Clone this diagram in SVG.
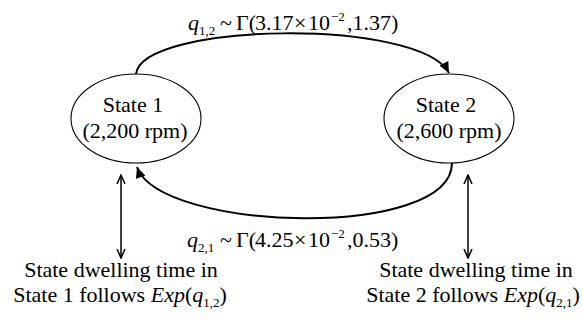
<svg xmlns="http://www.w3.org/2000/svg" width="583" height="320" viewBox="0 0 583 320">
<style>
text{font-family:"Liberation Serif","Times New Roman",serif;font-size:22px;fill:#000}
.it{font-style:italic}
.sm{font-size:13px}
.node ellipse{fill:#fff;stroke:#000;stroke-width:1.1}
.arc{fill:none;stroke:#000;stroke-width:2}
.dbl{fill:none;stroke:#000;stroke-width:1.5}
</style>
<defs>
<marker id="tri" markerWidth="12" markerHeight="10" refX="11" refY="5" orient="auto" markerUnits="userSpaceOnUse">
<path d="M0,0 L11,5 L0,10 Z" fill="#000"/>
</marker>
<marker id="chev" markerWidth="10" markerHeight="10" refX="9" refY="5" orient="auto" markerUnits="userSpaceOnUse">
<path d="M0,1 L9,5 L0,9" fill="none" stroke="#000" stroke-width="1.5"/>
</marker>
</defs>
<g id="connectors">
<path class="arc" d="M136,74 C142,22 420,18 449,73" marker-end="url(#tri)"/>
<path class="arc" d="M452,163 C452,240 160,232 137,167" marker-end="url(#tri)"/>
<path class="dbl" d="M121,216 L121,175" marker-end="url(#chev)"/>
<path class="dbl" d="M121,216 L121,258" marker-end="url(#chev)"/>
<path class="dbl" d="M468,216 L468,175" marker-end="url(#chev)"/>
<path class="dbl" d="M468,216 L468,258" marker-end="url(#chev)"/>
</g>
<g id="state1" class="node">
<ellipse cx="136" cy="118.5" rx="65" ry="44.5"/>
<text x="133" y="112" text-anchor="middle">State 1</text>
<text x="135" y="138" text-anchor="middle">(2,200 rpm)</text>
</g>
<g id="state2" class="node">
<ellipse cx="449" cy="118.5" rx="65" ry="44.5"/>
<text x="446" y="112" text-anchor="middle">State 2</text>
<text x="449" y="138" text-anchor="middle">(2,600 rpm)</text>
</g>
<g id="label12">
<text y="30"><tspan x="188" class="it">q</tspan><tspan x="199" dy="5" class="sm">1,2</tspan><tspan x="220" dy="-5">~</tspan><tspan x="236">Γ(</tspan><tspan x="255">3.17</tspan><tspan x="294">×</tspan><tspan x="308">10</tspan><tspan x="331" dy="-9" class="sm">−2</tspan><tspan x="347" dy="9">,1.37)</tspan></text>
</g>
<g id="label21">
<text y="247"><tspan x="187" class="it">q</tspan><tspan x="198" dy="5" class="sm">2,1</tspan><tspan x="220" dy="-5">~</tspan><tspan x="236">Γ(</tspan><tspan x="255">4.25</tspan><tspan x="294">×</tspan><tspan x="308">10</tspan><tspan x="331" dy="-9" class="sm">−2</tspan><tspan x="347" dy="9">,0.53)</tspan></text>
</g>
<g id="dwell1">
<text x="121" y="277" text-anchor="middle">State dwelling time in</text>
<text x="120" y="302" text-anchor="middle">State 1 follows <tspan class="it">Exp</tspan>(<tspan class="it">q</tspan><tspan dy="5" class="sm">1,2</tspan><tspan dy="-5">)</tspan></text>
</g>
<g id="dwell2">
<text x="476" y="277" text-anchor="middle">State dwelling time in</text>
<text x="473" y="302" text-anchor="middle">State 2 follows <tspan class="it">Exp</tspan>(<tspan class="it">q</tspan><tspan dy="5" class="sm">2,1</tspan><tspan dy="-5">)</tspan></text>
</g>
</svg>
